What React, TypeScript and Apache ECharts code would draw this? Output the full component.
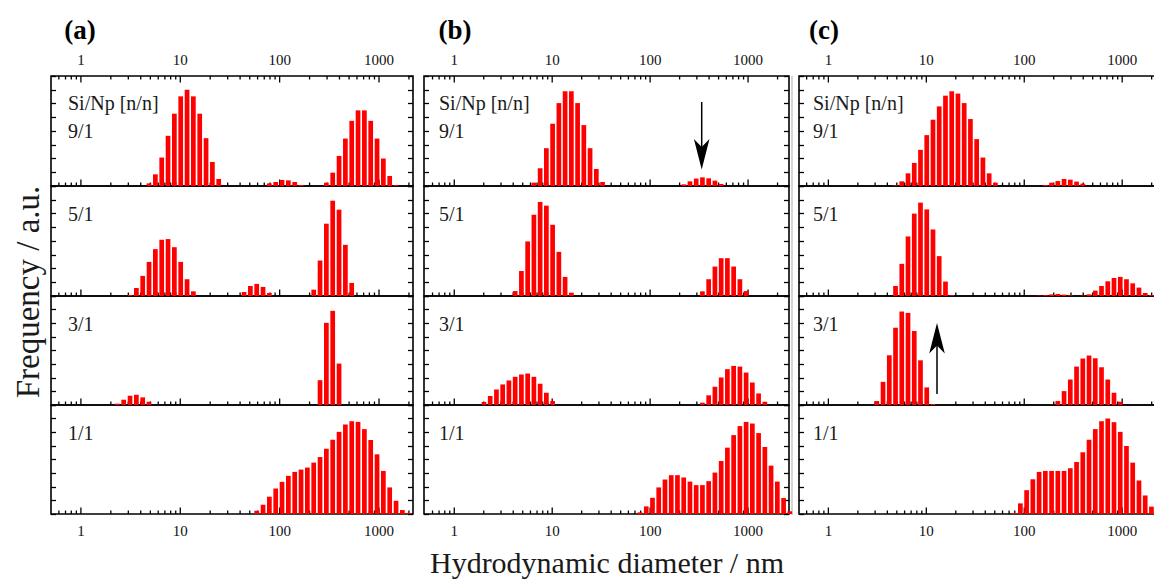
import React, { useEffect, useRef } from "react";
import * as echarts from "echarts";

// Zetasizer size classes (nm) shown in the plots
const DIAMETERS = [
  2.010, 2.328, 2.696, 3.122, 3.615, 4.187, 4.849, 5.615, 6.503, 7.531, 8.721,
  10.10, 11.70, 13.54, 15.69, 18.17, 21.04, 24.36, 28.21, 32.67, 37.84, 43.82,
  50.75, 58.77, 68.06, 78.82, 91.28, 105.7, 122.4, 141.8, 164.2, 190.1, 220.2,
  255.0, 295.3, 342.0, 396.1, 458.7, 531.2, 615.1, 712.4, 825.0, 955.4, 1106,
  1281, 1484, 1718, 1990, 2305, 2669,
];

const PANEL_LABELS = ["(a)", "(b)", "(c)"];
const RATIO_LABELS = ["9/1", "5/1", "3/1", "1/1"];
const HEADER_LABEL = "Si/Np [n/n]";
const MAJOR_TICKS = [1, 10, 100, 1000];
const MAJOR_TICK_LABELS = ["1", "10", "100", "1000"];
const MINOR_TICKS = [
  0.6, 0.7, 0.8, 0.9, 2, 3, 4, 5, 6, 7, 8, 9, 20, 30, 40, 50, 60, 70, 80, 90,
  200, 300, 400, 500, 600, 700, 800, 900, 2000,
];

// Panel (a)
const A_91 = [0, 0, 0, 0, 0, 0,
  0.19, 0.85, 2.07, 3.65, 5.26, 6.52, 7.0, 6.52, 5.26, 3.48, 1.75, 0.51,
  0, 0, 0, 0, 0, 0, 0,
  0.19, 0.29, 0.44, 0.41, 0.29, 0.07,
  0, 0, 0,
  0.24, 0.97, 2.19, 3.45, 4.74, 5.5, 5.5, 4.74, 3.45, 2.0, 0.73, 0.07,
  0, 0, 0, 0];
const A_51 = [0, 0, 0,
  0.07, 0.58, 1.46, 2.48, 3.41, 4.09, 4.14, 3.55, 2.48, 1.22, 0.34,
  0, 0, 0, 0, 0, 0, 0,
  0.29, 0.73, 0.88, 0.66, 0.22,
  0, 0, 0, 0, 0, 0,
  0.46, 2.58, 5.26, 6.93, 6.28, 3.72, 0.95,
  0, 0, 0, 0, 0, 0, 0, 0, 0, 0, 0];
const A_31 = [0,
  0.1, 0.39, 0.68, 0.75, 0.56, 0.24,
  0, 0, 0, 0, 0, 0, 0, 0, 0, 0, 0, 0, 0, 0, 0, 0, 0, 0, 0, 0, 0, 0, 0, 0, 0, 0,
  1.82, 6.03, 6.91, 3.04,
  0, 0, 0, 0, 0, 0, 0, 0, 0, 0, 0, 0, 0];
const A_11 = [0, 0, 0, 0, 0, 0, 0, 0, 0, 0, 0, 0, 0, 0, 0, 0, 0, 0, 0, 0, 0, 0, 0,
  0.24, 0.68, 1.27, 1.87, 2.36, 2.8, 3.09, 3.26, 3.41, 3.77, 4.18, 4.79, 5.45,
  6.03, 6.57, 6.81, 6.76, 6.23, 5.43, 4.38, 3.16, 1.95, 0.97, 0.29, 0.07,
  0, 0];

// Panel (b)
const B_91 = [0, 0, 0, 0, 0, 0, 0, 0,
  0.24, 1.29, 2.75, 4.53, 6.03, 6.89, 6.89, 6.03, 4.43, 2.75, 1.24, 0.29,
  0, 0, 0, 0, 0, 0, 0, 0, 0, 0, 0, 0,
  0.12, 0.34, 0.54, 0.63, 0.56, 0.39, 0.15,
  0, 0, 0, 0, 0, 0, 0, 0, 0, 0, 0];
const B_51 = [0, 0, 0, 0, 0,
  0.36, 1.82, 3.97, 5.91, 6.84, 6.57, 5.18, 3.21, 1.39, 0.24,
  0, 0, 0, 0, 0, 0, 0, 0, 0, 0, 0, 0, 0, 0, 0, 0, 0, 0, 0, 0,
  0.34, 1.22, 2.14, 2.75, 2.75, 2.14, 1.22, 0.36,
  0, 0, 0, 0, 0, 0, 0];
const B_31 = [0.22, 0.66, 1.14, 1.51, 1.8, 2.07, 2.24, 2.31, 2.07, 1.56, 0.9, 0.29,
  0, 0, 0, 0, 0, 0, 0, 0, 0, 0, 0, 0, 0, 0, 0, 0, 0, 0, 0, 0, 0, 0, 0,
  0.17, 0.71, 1.34, 2.02, 2.63, 2.87, 2.82, 2.38, 1.65, 0.85, 0.24,
  0, 0, 0, 0];
const B_11 = [0, 0, 0, 0, 0, 0, 0, 0, 0, 0, 0, 0, 0, 0, 0, 0, 0, 0, 0, 0, 0, 0, 0, 0, 0,
  0.12, 0.56, 1.19, 1.95, 2.53, 2.85, 2.85, 2.68, 2.38, 2.12, 2.12, 2.41, 3.04,
  3.89, 4.87, 5.79, 6.45, 6.76, 6.64, 5.94, 4.92, 3.55, 2.38, 1.17, 0.2];

// Panel (c)
const C_91 = [0, 0, 0, 0, 0, 0,
  0.05, 0.34, 0.92, 1.68, 2.63, 3.7, 4.82, 5.79, 6.57, 6.89, 6.72, 6.03, 4.87,
  3.41, 2.07, 0.92, 0.24,
  0, 0, 0, 0, 0, 0, 0,
  0.07, 0.24, 0.36, 0.51, 0.46, 0.32, 0.17,
  0, 0, 0, 0, 0, 0, 0, 0, 0, 0, 0, 0, 0];
const C_51 = [0, 0, 0, 0, 0, 0,
  0.73, 2.34, 4.33, 5.99, 6.79, 6.3, 4.84, 2.9, 1.05, 0.05,
  0, 0, 0, 0, 0, 0, 0, 0, 0, 0, 0, 0, 0,
  0.03, 0.06, 0.12, 0.15, 0.1, 0.05,
  0,
  0.03, 0.12, 0.39, 0.73, 1.07, 1.31, 1.39, 1.22, 0.92, 0.61, 0.22, 0.07,
  0, 0];
const C_31 = [0, 0, 0,
  0.29, 1.7, 3.65, 5.67, 6.86, 6.76, 5.43, 3.28, 1.29, 0.07,
  0, 0, 0, 0, 0, 0, 0, 0, 0, 0, 0, 0, 0, 0, 0, 0, 0, 0,
  0.02, 0.29, 1.02, 1.87, 2.82, 3.41, 3.63, 3.43, 2.77, 1.87, 0.9, 0.24,
  0, 0, 0, 0, 0, 0, 0];
const C_11 = [0, 0, 0, 0, 0, 0, 0, 0, 0, 0, 0, 0, 0, 0, 0, 0, 0, 0, 0, 0, 0, 0, 0, 0, 0,
  0.07, 0.78, 1.75, 2.55, 3.09, 3.16, 3.16, 3.16, 3.16, 3.36, 3.82, 4.53, 5.45,
  6.23, 6.81, 7.01, 6.74, 6.03, 4.99, 3.77, 2.46, 1.36, 0.54,
  0.15, 0];

const PANEL_DATA = [
  [A_91, A_51, A_31, A_11],
  [B_91, B_51, B_31, B_11],
  [C_91, C_51, C_31, C_11],
];

const SERIF = '"Liberation Serif", "Times New Roman", "DejaVu Serif", serif';

const COLS = [
  { left: 51, width: 362, min: -0.301, max: 3.342, textX: 68, labelX: 80 },
  { left: 424, width: 365, min: -0.309, max: 3.418, textX: 439, labelX: 455 },
  { left: 799, width: 365, min: -0.3, max: 3.427, textX: 813, labelX: 824 },
];
const ROWS = [
  { top: 76, height: 110 },
  { top: 186, height: 110 },
  { top: 296, height: 109 },
  { top: 405, height: 109 },
];
const Y_MAX = 8;

function buildOption() {
  const grid: any[] = [];
  const xAxis: any[] = [];
  const yAxis: any[] = [];
  const series: any[] = [];
  const graphic: any[] = [];

  const tickData = [
    ...MAJOR_TICKS.map((v, i) => [Math.log10(v), 1, i]),
    ...MINOR_TICKS.map((v) => [Math.log10(v), 0, -1]),
  ];

  COLS.forEach((col, c) => {
    ROWS.forEach((row, r) => {
      const g = grid.length;
      grid.push({
        left: col.left,
        width: col.width,
        top: row.top,
        height: row.height,
        show: true,
        borderColor: "#000",
        borderWidth: 1.6,
        backgroundColor: "transparent",
        containLabel: false,
        outerBoundsMode: "none",
      });
      xAxis.push({
        type: "value",
        gridIndex: g,
        min: col.min,
        max: col.max,
        axisLine: { show: false, onZero: false },
        axisTick: { show: false },
        axisLabel: { show: false },
        splitLine: { show: false },
      });
      const yBase = {
        type: "value",
        gridIndex: g,
        min: 0,
        max: Y_MAX,
        interval: 1,
        axisLine: { show: false, onZero: false },
        axisTick: { show: true, inside: true, length: 5, lineStyle: { color: "#000", width: 1.3 } },
        axisLabel: { show: false },
        splitLine: { show: false },
      };
      yAxis.push({ ...yBase, position: "left" });
      yAxis.push({ ...yBase, position: "right" });

      const values = PANEL_DATA[c][r];
      series.push({
        type: "bar",
        xAxisIndex: g,
        yAxisIndex: 2 * g,
        barWidth: 4.7,
        silent: true,
        itemStyle: { color: "#ff0000" },
        data: values
          .map((v, i) => [Math.log10(DIAMETERS[i]), v])
          .filter((d) => d[1] > 0),
      });

      const data = tickData.filter((d) => d[0] > col.min + 0.01 && d[0] < col.max - 0.005);
      series.push({
        type: "custom",
        xAxisIndex: g,
        yAxisIndex: 2 * g,
        clip: false,
        silent: true,
        data,
        renderItem: (params: any, api: any) => {
          const v = api.value(0) as number;
          const major = api.value(1) === 1;
          const li = api.value(2) as number;
          const b = api.coord([v, 0]);
          const t = api.coord([v, Y_MAX]);
          const len = major ? 6.5 : 3.5;
          const lineStyle = { stroke: "#000", lineWidth: 1.3 };
          const children: any[] = [
            { type: "line", shape: { x1: b[0], y1: b[1], x2: b[0], y2: b[1] - len }, style: lineStyle },
          ];
          if (r === 0) {
            children.push({ type: "line", shape: { x1: t[0], y1: t[1], x2: t[0], y2: t[1] + len }, style: lineStyle });
          }
          const textStyle = (y: number, s: string) => ({
            type: "text",
            x: b[0],
            y,
            style: {
              text: s,
              fill: "#111",
              font: `15px ${SERIF}`,
              textAlign: "center",
              textVerticalAlign: "middle",
              align: "center",
              verticalAlign: "middle",
            },
          });
          if (major && li >= 0 && r === 0) children.push(textStyle(t[1] - 16, MAJOR_TICK_LABELS[li]));
          if (major && li >= 0 && r === ROWS.length - 1) children.push(textStyle(b[1] + 17, MAJOR_TICK_LABELS[li]));
          return { type: "group", children };
        },
      });

      // ratio labels
      graphic.push({
        type: "text",
        x: col.textX,
        y: r === 0 ? 131 : row.top + 28,
        style: {
          text: RATIO_LABELS[r],
          fill: "#1a1a1a",
          font: `20px ${SERIF}`,
          textAlign: "left",
          textVerticalAlign: "middle",
          align: "left",
          verticalAlign: "middle",
        },
      });
    });

    graphic.push({
      type: "text",
      x: col.textX,
      y: 103,
      style: {
        text: HEADER_LABEL,
        fill: "#1a1a1a",
        font: `20px ${SERIF}`,
        textAlign: "left",
        textVerticalAlign: "middle",
        align: "left",
        verticalAlign: "middle",
      },
    });
    graphic.push({
      type: "text",
      x: col.labelX,
      y: 30,
      style: {
        text: PANEL_LABELS[c],
        fill: "#000",
        font: `bold 27px ${SERIF}`,
        textAlign: "center",
        textVerticalAlign: "middle",
        align: "center",
        verticalAlign: "middle",
      },
    });
  });

  // axis titles
  graphic.push({
    type: "text",
    x: 28,
    y: 292,
    rotation: Math.PI / 2,
    style: {
      text: "Frequency / a.u.",
      fill: "#1a1a1a",
      font: `33px ${SERIF}`,
      textAlign: "center",
      textVerticalAlign: "middle",
      align: "center",
      verticalAlign: "middle",
    },
  });
  graphic.push({
    type: "text",
    x: 607,
    y: 562,
    style: {
      text: "Hydrodynamic diameter / nm",
      fill: "#1a1a1a",
      font: `30px ${SERIF}`,
      textAlign: "center",
      textVerticalAlign: "middle",
      align: "center",
      verticalAlign: "middle",
    },
  });

  // separator between (b) and (c)
  graphic.push({
    type: "line",
    shape: { x1: 792, y1: 76, x2: 792, y2: 515 },
    style: { stroke: "#c8c8c8", lineWidth: 1.5 },
  });

  // arrow in (b) 9/1 pointing down
  graphic.push({
    type: "line",
    shape: { x1: 701.7, y1: 102, x2: 701.7, y2: 152 },
    style: { stroke: "#000", lineWidth: 1.5 },
  });
  graphic.push({
    type: "polygon",
    shape: { points: [[701.7, 169.5], [693.9, 139], [701.7, 147], [709.5, 139]] },
    style: { fill: "#000" },
  });
  // arrow in (c) 3/1 pointing up
  graphic.push({
    type: "line",
    shape: { x1: 937, y1: 394, x2: 937, y2: 342 },
    style: { stroke: "#000", lineWidth: 1.5 },
  });
  graphic.push({
    type: "polygon",
    shape: { points: [[937, 323], [929.2, 353.5], [937, 345.5], [944.8, 353.5]] },
    style: { fill: "#000" },
  });

  return {
    animation: false,
    backgroundColor: "#fff",
    grid,
    xAxis,
    yAxis,
    series,
    graphic: { elements: graphic },
  };
}

export default function App() {
  const ref = useRef<HTMLDivElement>(null);
  useEffect(() => {
    if (!ref.current) return;
    const chart = echarts.init(ref.current, undefined, { renderer: "svg" });
    chart.setOption(buildOption() as any);
    return () => chart.dispose();
  }, []);
  return (
    <div
      ref={ref}
      style={{ position: "absolute", left: 0, top: 0, width: 1154, height: 580, background: "#fff" }}
    />
  );
}
